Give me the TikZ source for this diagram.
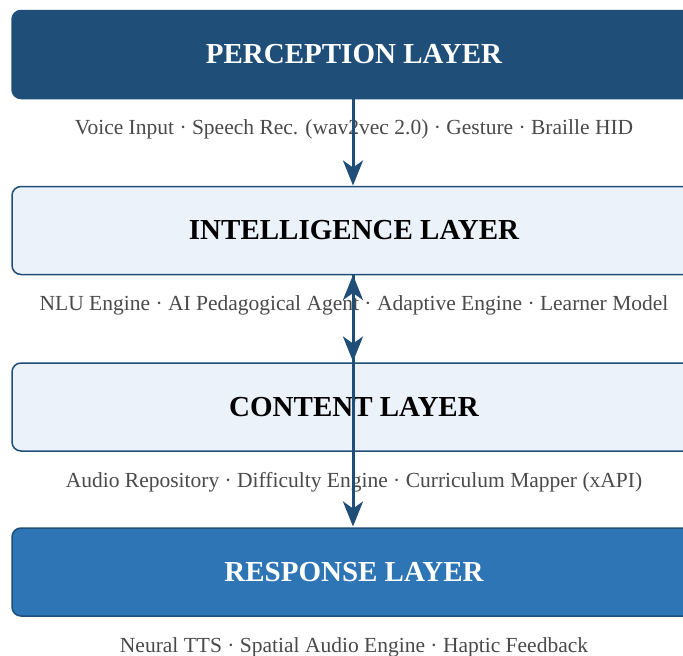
\documentclass[tikz,border=0pt]{standalone}
\usepackage{fontspec}
\setmainfont{Liberation Serif}
\usetikzlibrary{arrows.meta}
\definecolor{dkblue}{HTML}{1F4E79}
\definecolor{mdblue}{HTML}{2E75B6}
\definecolor{ltblue}{HTML}{EBF2FA}
\definecolor{subgray}{HTML}{4A4A4A}
\tikzset{
  layer/.style={rounded corners=9pt, line width=1.5pt, draw=dkblue, minimum width=684pt, minimum height=88pt, inner sep=0pt, font=\fontsize{29}{32}\selectfont\bfseries},
  darklayer/.style={layer, fill=dkblue, text=white},
  lightlayer/.style={layer, fill=ltblue, text=black},
  resplayer/.style={layer, fill=mdblue, text=white},
  sublabel/.style={font=\fontsize{21.5}{24}\selectfont, text=subgray, inner sep=0pt},
  flow/.style={line width=3pt, draw=dkblue, -{Stealth[length=25pt, width=20pt, inset=7pt]}},
  flowboth/.style={line width=3pt, draw=dkblue, {Stealth[length=25pt, width=20pt, inset=7pt]}-{Stealth[length=25pt, width=20pt, inset=7pt]}}
}
\begin{document}
\begin{tikzpicture}[x=1pt, y=-1pt]
\useasboundingbox (0,0) rectangle (683,656);
\fill[white] (0,0) rectangle (683,656);
\node[darklayer] (perc) at (354,54.5) {PERCEPTION LAYER};
\node[sublabel] (sperc) at (354,129) {Voice Input · Speech Rec. (wav2vec 2.0) · Gesture · Braille HID};
\node[lightlayer] (intel) at (354,230.5) {INTELLIGENCE LAYER};
\node[sublabel] (sintel) at (354,305) {NLU Engine · AI Pedagogical Agent · Adaptive Engine · Learner Model};
\node[lightlayer] (cont) at (354,407) {CONTENT LAYER};
\node[sublabel] (scont) at (354,482) {Audio Repository · Difficulty Engine · Curriculum Mapper (xAPI)};
\node[resplayer] (resp) at (354,572) {RESPONSE LAYER};
\node[sublabel] (sresp) at (354,647) {Neural TTS · Spatial Audio Engine · Haptic Feedback};
\coordinate (a1s) at (353,98);
\coordinate (a1e) at (353,185.5);
\coordinate (a2s) at (353,275);
\coordinate (a2e) at (353,361.5);
\coordinate (a3e) at (353,526.5);
\draw[flow] (a1s) -- (a1e);
\draw[flowboth] (a2s) -- (a2e);
\draw[flow] (a2s) -- (a3e);
\end{tikzpicture}
\end{document}
